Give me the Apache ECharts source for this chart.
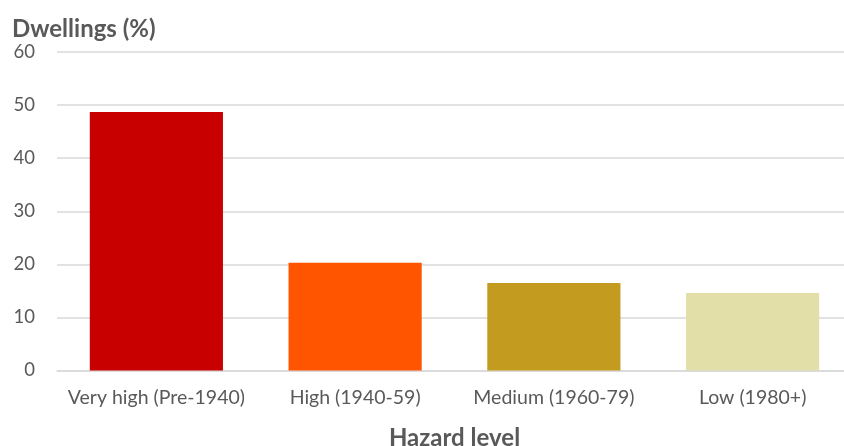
<!DOCTYPE html>
<html>
<head>
<meta charset="utf-8">
<script src="https://cdn.jsdelivr.net/npm/echarts@6/dist/echarts.min.js"></script>
<style>html,body{margin:0;padding:0;background:#fff}#chart{width:844px;height:446px}</style>
</head>
<body>
<div id="chart"></div>
<script>
// Share of dwellings by hazard level (construction era)
const categories = ['Very high (Pre-1940)', 'High (1940-59)', 'Medium (1960-79)', 'Low (1980+)'];
const dwellingsPct = [48.7, 20.3, 16.5, 14.6];
const barColors = ['#C80000', '#FF5500', '#C39B1E', '#E2DFA8'];
const yTicks = { min: 0, max: 60, interval: 10 };

const chart = echarts.init(document.getElementById('chart'));
const font = 'Lato, "Open Sans", sans-serif';
chart.setOption({
  animation: false,
  title: {
    text: 'Dwellings (%)',
    left: 7, top: 12,
    textStyle: { fontFamily: font, fontSize: 24, fontWeight: 'bold', color: '#595959' }
  },
  grid: { left: 57, right: -8, top: 52, bottom: 75.5, outerBoundsMode: 'none', containLabel: false },
  xAxis: {
    type: 'category',
    data: categories,
    name: 'Hazard level',
    nameLocation: 'middle',
    nameGap: 56,
    nameTextStyle: { fontFamily: font, fontSize: 24, fontWeight: 'bold', color: '#595959' },
    axisLine: { lineStyle: { color: '#d9d9d9', width: 1.5 } },
    axisTick: { show: false },
    axisLabel: { interval: 0, fontFamily: font, fontSize: 19.5, color: '#595959', margin: 17 }
  },
  yAxis: {
    type: 'value',
    min: yTicks.min, max: yTicks.max, interval: yTicks.interval,
    axisLine: { show: false },
    axisTick: { show: false },
    axisLabel: { fontFamily: font, fontSize: 18.5, color: '#595959', margin: 22 },
    splitLine: { lineStyle: { color: '#d9d9d9', width: 1.5 } }
  },
  series: [{
    type: 'bar',
    barWidth: '67%',
    data: dwellingsPct.map((v, i) => ({ value: v, itemStyle: { color: barColors[i] } }))
  }]
});
</script>
</body>
</html>
